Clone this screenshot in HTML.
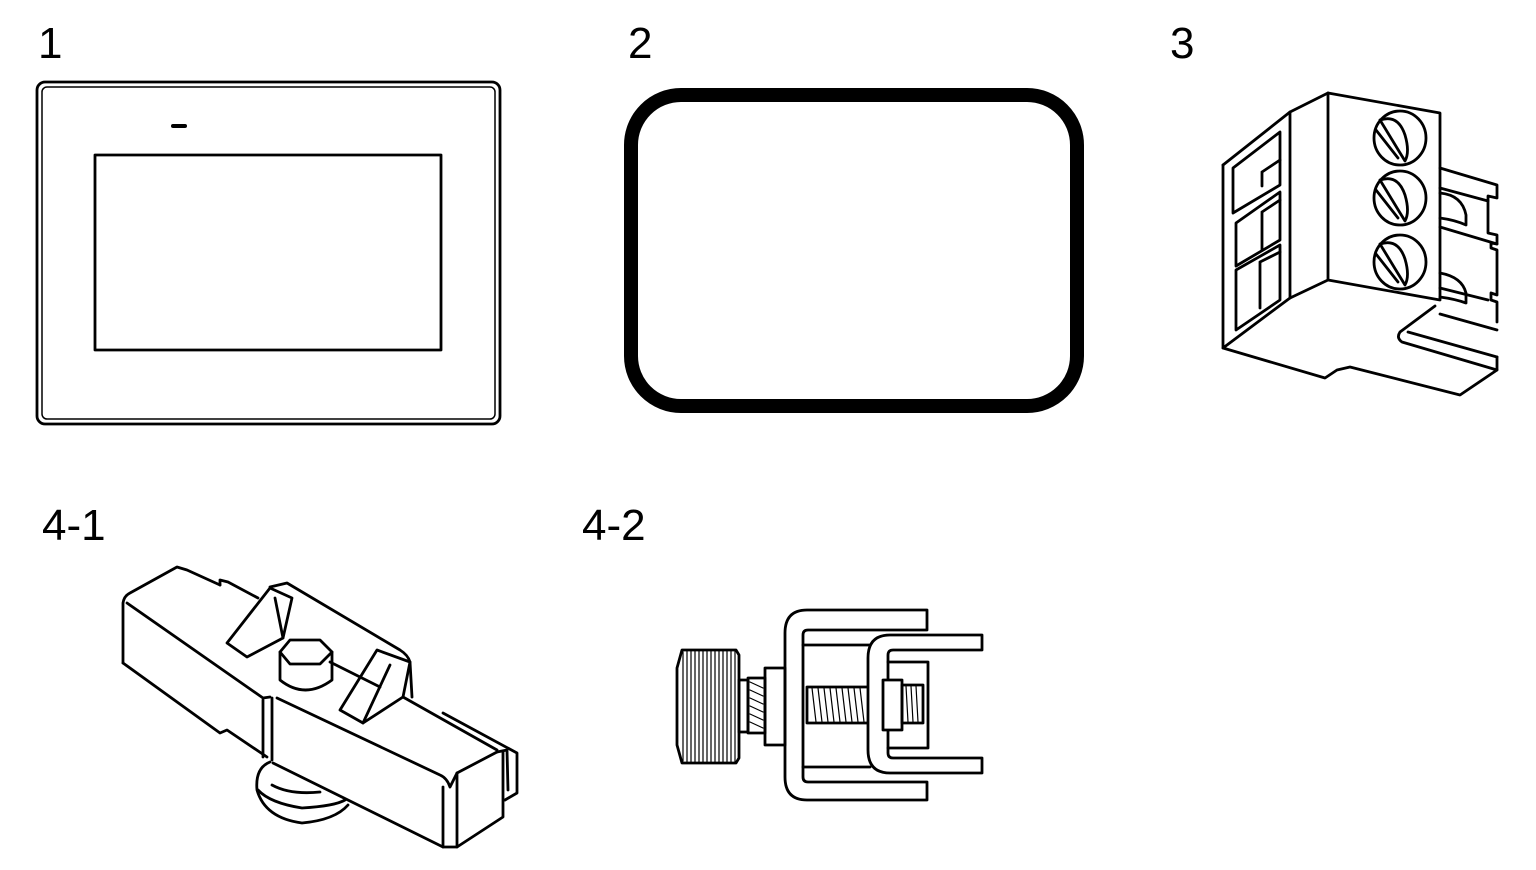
<!DOCTYPE html>
<html><head><meta charset="utf-8"><style>
html,body{margin:0;padding:0;background:#fff;}
svg{display:block;}
text{font-family:"Liberation Sans",sans-serif;font-size:44px;fill:#000;}
</style></head><body>
<svg width="1536" height="870" viewBox="0 0 1536 870" xmlns="http://www.w3.org/2000/svg">
<text x="38" y="58">1</text>
<text x="628" y="58">2</text>
<text x="1170" y="58">3</text>
<text x="42" y="540">4-1</text>
<text x="582" y="540">4-2</text>

<g fill="none" stroke="#000" stroke-width="2.8" stroke-linejoin="round" stroke-linecap="round">
<!-- 1 -->
<rect x="37" y="82" width="463" height="342" rx="8"/>
<rect x="42" y="87" width="453" height="332" rx="5" stroke-width="1.5"/>
<rect x="95" y="155" width="346" height="195"/>
<line x1="173" y1="126" x2="185" y2="126" stroke-width="4"/>

<!-- 2 -->
<rect x="631" y="95" width="446" height="311" rx="50" stroke-width="14"/>

<!-- 3 -->
<path d="M1328,93 L1440,113 L1440,300 L1328,280 Z"/>
<path d="M1223,165 L1290,112 L1328,93"/>
<line x1="1290" y1="112" x2="1290" y2="298"/>
<path d="M1223,165 L1223,348 L1290,298 L1328,280"/>
<path d="M1223,348 L1325,378 L1337,370 L1350,367 L1460,395 L1497,370 L1497,357"/>
<path d="M1440,168 L1497,185 L1497,198 L1488,196 L1488,233 L1497,235 L1497,244 L1491,243 L1491,248 L1497,250 L1497,295 L1491,293 L1491,300 L1497,302 L1497,322"/>
<path d="M1440,188 L1488,201"/>
<path d="M1440,227 L1497,244"/>
<path d="M1440,288 L1488,300"/>
<path d="M1440,314 L1497,330"/>
<path d="M1435,306 L1400,332 Q1396,338 1402,342 L1497,370"/>
<path d="M1408,332 L1497,357"/>
<path d="M1440,193 Q1462,195 1466,215 L1466,225 Q1455,220 1440,218"/>
<path d="M1440,273 Q1462,277 1466,293 L1466,303 Q1455,299 1440,297"/>
<!-- windows -->
<path d="M1233,168 L1280,132 L1280,185 L1233,213 Z"/>
<path d="M1262,172 L1280,160 M1262,172 L1262,186"/>
<path d="M1236,223 L1280,192 L1280,240 L1236,266 Z"/>
<path d="M1262,212 L1280,200 M1262,212 L1262,250"/>
<path d="M1236,270 L1280,245 L1280,300 L1236,330 Z"/>
<path d="M1260,262 L1280,252 M1260,262 L1260,308"/>
<!-- screws -->
<ellipse cx="1400" cy="138" rx="26" ry="27"/>
<path d="M1380,120 Q1398,114 1405,135 Q1410,152 1405,161 Z"/>
<line x1="1376" y1="130" x2="1398" y2="158"/>
<ellipse cx="1400" cy="198" rx="26" ry="27"/>
<path d="M1380,180 Q1398,174 1405,195 Q1410,212 1405,221 Z"/>
<line x1="1376" y1="190" x2="1398" y2="218"/>
<ellipse cx="1400" cy="262" rx="26" ry="27"/>
<path d="M1380,244 Q1398,238 1405,259 Q1410,276 1405,285 Z"/>
<line x1="1376" y1="254" x2="1398" y2="282"/>

<!-- 4-1 -->
<path d="M123,663 L123,603 Q124,596 130,593 L177,567 L187,570 L220,585"/>
<path d="M220,585 L220,580 L228,582 L258,598"/>
<path d="M127,603 L263,698 L270,697"/>
<path d="M123,663 L220,733 L227,730 L267,757"/>
<line x1="263" y1="700" x2="263" y2="757"/>
<line x1="272" y1="698" x2="272" y2="760"/>
<path d="M277,698 L440,775 Q447,778 450,787 L457,773 L497,752"/>
<path d="M273,763 L443,847 L457,847 L503,817 L503,752"/>
<line x1="443" y1="787" x2="443" y2="847"/>
<line x1="457" y1="773" x2="457" y2="847"/>
<path d="M403,697 L497,750"/>
<path d="M443,713 L517,753 L517,793 L505,800"/>
<path d="M497,752 L507,750 L508,790"/>
<path d="M270,587 L287,583 L400,650 Q408,655 410,662 L412,697"/>
<path d="M227,643 L247,657 L283,638 L292,598 L270,588 Z"/>
<path d="M283,638 L275,598"/>
<path d="M340,710 L363,723 L403,697 L410,662 L377,650 Z"/>
<path d="M363,723 L390,665"/>
<path d="M330,662 L380,687"/>
<path d="M280,652 L290,640 L320,640 L332,652 L320,664 L290,664 Z"/>
<path d="M280,652 L280,680 Q305,700 332,680 L332,652"/>
<path d="M270,762 Q255,768 257,790 Q265,818 302,823 Q335,820 348,805"/>
<path d="M272,785 Q290,795 320,792"/>
<path d="M258,790 Q270,803 302,808 Q335,806 345,800"/>

<!-- 4-2 -->
<path d="M682,650 L736,650 L739,655 L739,758 L736,763 L682,763 L677,745 L677,668 Z"/>
<g stroke-width="1.2">
<line x1="683" y1="652" x2="683" y2="761"/><line x1="687" y1="651" x2="687" y2="762"/>
<line x1="691" y1="651" x2="691" y2="762"/><line x1="695" y1="651" x2="695" y2="762"/>
<line x1="699" y1="651" x2="699" y2="762"/><line x1="703" y1="651" x2="703" y2="762"/>
<line x1="707" y1="651" x2="707" y2="762"/><line x1="711" y1="651" x2="711" y2="762"/>
<line x1="715" y1="651" x2="715" y2="762"/><line x1="719" y1="651" x2="719" y2="762"/>
<line x1="723" y1="651" x2="723" y2="762"/><line x1="727" y1="651" x2="727" y2="762"/>
<line x1="731" y1="651" x2="731" y2="762"/><line x1="735" y1="651" x2="735" y2="762"/>
</g>
<rect x="739" y="680" width="9" height="52"/>
<rect x="748" y="678" width="17" height="55"/>
<g stroke-width="1.2"><path d="M750,682 L763,688 M750,690 L763,696 M750,698 L763,704 M750,706 L763,712 M750,714 L763,720 M750,722 L763,728"/></g>
<rect x="765" y="668" width="20" height="77"/>
<path d="M927,610 L807,610 Q785,610 785,633 L785,777 Q785,800 807,800 L927,800 L927,782 L808,782 Q803,782 803,777 L803,635 Q803,630 808,630 L927,630 Z"/>
<line x1="803" y1="645" x2="870" y2="645"/>
<line x1="803" y1="767" x2="870" y2="767"/>
<rect x="807" y="687" width="63" height="36"/>
<g stroke-width="1.2"><path d="M812,688 L816,722 M818,688 L822,722 M824,688 L828,722 M830,688 L834,722 M836,688 L840,722 M842,688 L846,722 M848,688 L852,722 M854,688 L858,722 M860,688 L864,722"/></g>
<path d="M982,635 L890,635 Q868,635 868,658 L868,750 Q868,773 890,773 L982,773 L982,758 L893,758 Q888,758 888,753 L888,655 Q888,650 893,650 L982,650 Z" fill="#fff"/>
<path d="M888,662 L928,662 L928,748 L888,748"/>
<rect x="883" y="680" width="19" height="50" fill="#fff"/>
<rect x="902" y="685" width="21" height="38"/>
<g stroke-width="1.2"><path d="M906,686 L908,722 M911,686 L913,722 M916,686 L918,722"/></g>
</g>
</svg>
</body></html>
